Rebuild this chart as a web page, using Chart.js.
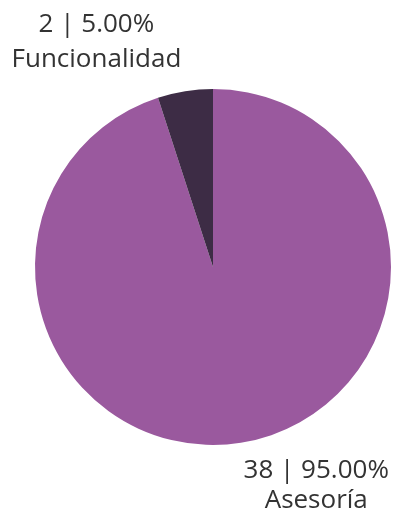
<!DOCTYPE html>
<html lang="es">
<head>
    <meta charset="UTF-8">
    <title>Pie</title>
    <style>
        html, body { margin: 0; padding: 0; background: #fff; }
        #pieChart { display: block; }
    </style>
</head>
<body>
    <canvas id="pieChart" width="393" height="511"></canvas>

    <script src="https://cdn.jsdelivr.net/npm/chart.js"></script>
    <script>
        // Data
        const categories = ['Asesoría', 'Funcionalidad'];
        const counts = [38, 2];
        const colors = ['#9a599e', '#3d2c45'];

        const total = counts.reduce((a, b) => a + b, 0);

        // where each label sits, relative to the pie centre (in radii); gap = px between the two lines
        const labelPlace = [
            { dx: 0.58, dy: 1.185, gap: 30 },   // Asesoría, bottom right
            { dx: -0.655, dy: -1.32, gap: 35 }  // Funcionalidad, top left
        ];

        // Draw "n | pct%" + category name outside the slices
        const outsideLabels = {
            id: 'outsideLabels',
            afterDraw(chart) {
                const ctx = chart.ctx;
                const meta = chart.getDatasetMeta(0);
                ctx.save();
                ctx.fillStyle = '#333333';
                ctx.textAlign = 'center';
                ctx.textBaseline = 'alphabetic';
                ctx.font = '26px "Open Sans", sans-serif';
                meta.data.forEach(function(arc, i) {
                    const r = arc.outerRadius;
                    const x = arc.x + labelPlace[i].dx * r;
                    const y = arc.y + labelPlace[i].dy * r;
                    const pct = (counts[i] / total * 100).toFixed(2) + '%';
                    ctx.fillText(counts[i] + ' | ' + pct, x, y);
                    ctx.fillText(categories[i], x, y + labelPlace[i].gap);
                });
                ctx.restore();
            }
        };

        new Chart(document.getElementById('pieChart').getContext('2d'), {
            type: 'pie',
            data: {
                labels: categories,
                datasets: [{
                    data: counts,
                    backgroundColor: colors,
                    borderWidth: 0
                }]
            },
            options: {
                responsive: false,
                animation: false,
                layout: { padding: { left: 35, right: 2, top: 89, bottom: 66 } },
                plugins: {
                    legend: { display: false },
                    tooltip: { enabled: false }
                }
            },
            plugins: [outsideLabels]
        });
    </script>
</body>
</html>
